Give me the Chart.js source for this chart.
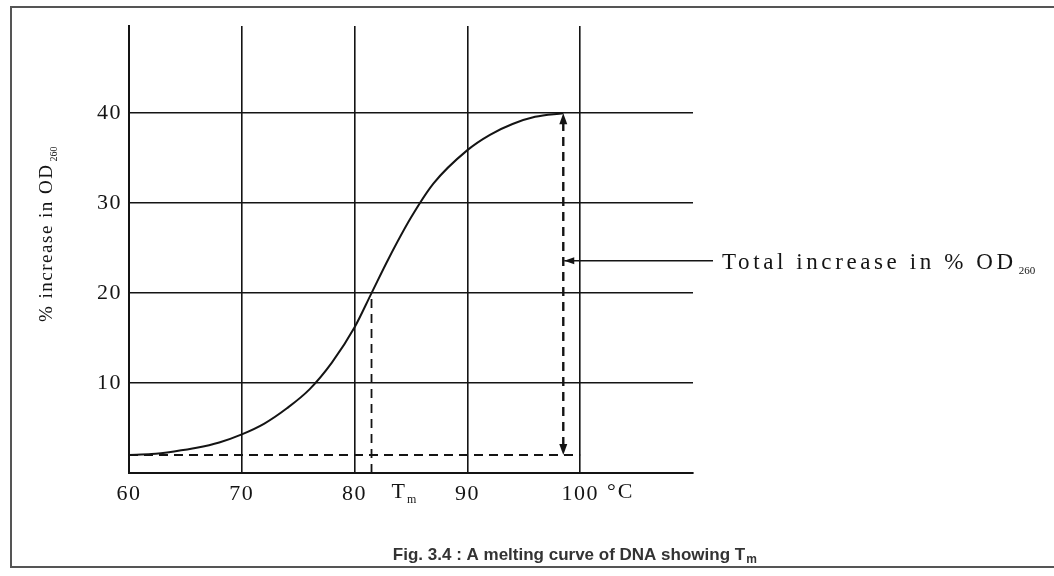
<!DOCTYPE html>
<html>
<head>
<meta charset="utf-8">
<script src="https://cdn.jsdelivr.net/npm/chart.js@4.4.1/dist/chart.umd.min.js"></script>
<style>
  html, body { margin: 0; padding: 0; background: #fff; }
  #wrap { width: 1054px; height: 576px; }
</style>
</head>
<body>
<div id="wrap"><canvas id="meltChart" width="1054" height="576"></canvas></div>
<script>
// melting curve
const tempC = [60, 62, 64, 66, 68, 70, 72, 74, 76, 78, 80, 81.5, 83, 85, 87, 90, 92, 94, 96, 98.5];
const pctIncrease = [2.0, 2.1, 2.4, 2.8, 3.4, 4.3, 5.5, 7.2, 9.3, 12.3, 16.2, 20.0, 23.8, 28.4, 32.2, 35.9, 37.6, 38.8, 39.6, 40.0];

const xTicks = [60, 70, 80, 90, 100];
const yTicks = [10, 20, 30, 40];
const xRange = [60, 110];
const yRange = [0, 49.7];

const baseline = 2;      // starting OD level
const baselineEnd = 100;
const tm = 81.5;         // melting temperature
const tmValue = 20;
const arrowX = 98.5;     // total increase arrow
const plateau = 40;
const noteY = 23.6;

const ink = '#141414';
const serif = '"Liberation Serif", "Times New Roman", serif';

const dashed = (data, width) => ({
  data: data,
  borderColor: ink,
  borderWidth: width,
  borderDash: [9, 6],
  pointRadius: 0,
  fill: false
});

function drawSub(ctx, main, sub, x, y, size, subSize, spacing) {
  ctx.font = size + 'px ' + serif;
  ctx.letterSpacing = spacing + 'px';
  ctx.fillText(main, x, y);
  const w = ctx.measureText(main).width;
  ctx.font = subSize + 'px ' + serif;
  ctx.letterSpacing = '0px';
  ctx.fillText(sub, x + w + 2, y + 5);
}

const extras = {
  id: 'extras',
  beforeDraw(chart) {
    const ctx = chart.ctx;
    ctx.save();
    ctx.fillStyle = '#fff';
    ctx.fillRect(0, 0, chart.width, chart.height);
    ctx.restore();
    ctx.letterSpacing = '1.5px';
  },
  afterDraw(chart) {
    const ctx = chart.ctx;
    const xs = chart.scales.x;
    const ys = chart.scales.y;
    const px = xs.getPixelForValue(arrowX);
    const pTop = ys.getPixelForValue(plateau);
    const pBot = ys.getPixelForValue(baseline);
    ctx.save();
    ctx.letterSpacing = '0px';
    ctx.fillStyle = ink;
    ctx.strokeStyle = ink;

    // arrow heads of the total increase arrow
    ctx.beginPath();
    ctx.moveTo(px, pTop);
    ctx.lineTo(px - 4, pTop + 11);
    ctx.lineTo(px + 4, pTop + 11);
    ctx.closePath();
    ctx.fill();
    ctx.beginPath();
    ctx.moveTo(px, pBot);
    ctx.lineTo(px - 4, pBot - 11);
    ctx.lineTo(px + 4, pBot - 11);
    ctx.closePath();
    ctx.fill();

    // pointer line to the note
    const ny = ys.getPixelForValue(noteY);
    ctx.lineWidth = 1.5;
    ctx.beginPath();
    ctx.moveTo(px + 1, ny);
    ctx.lineTo(713, ny);
    ctx.stroke();
    ctx.beginPath();
    ctx.moveTo(px + 1, ny);
    ctx.lineTo(px + 11, ny - 3.5);
    ctx.lineTo(px + 11, ny + 3.5);
    ctx.closePath();
    ctx.fill();

    ctx.textBaseline = 'alphabetic';
    ctx.textAlign = 'left';
    drawSub(ctx, 'Total increase in % OD', '260', 722, ny + 8, 23, 11, 3.6);

    // Tm and unit labels under the axis
    const axisY = ys.getPixelForValue(0);
    const tx = xs.getPixelForValue(tm) + 20;
    drawSub(ctx, 'T', 'm', tx, axisY + 25, 22, 12, 0);
    ctx.font = '22px ' + serif;
    ctx.letterSpacing = '2px';
    ctx.textAlign = 'center';
    ctx.fillText('°C', xs.getPixelForValue(103.6), axisY + 25);

    // y axis title
    ctx.save();
    ctx.translate(52, 322);
    ctx.rotate(-Math.PI / 2);
    ctx.textAlign = 'left';
    drawSub(ctx, '% increase in OD', '260', 0, 0, 19, 10, 1.5);
    ctx.restore();

    // caption
    ctx.letterSpacing = '0px';
    ctx.textAlign = 'left';
    ctx.fillStyle = '#333';
    ctx.font = 'bold 17px "Liberation Sans", Arial, sans-serif';
    const cap = 'Fig. 3.4 : A melting curve of DNA showing T';
    const cw = ctx.measureText(cap).width;
    const cx = 575 - (cw + 12) / 2;
    ctx.fillText(cap, cx, 560);
    ctx.font = 'bold 12px "Liberation Sans", Arial, sans-serif';
    ctx.fillText('m', cx + cw + 1, 563);

    // frame
    ctx.strokeStyle = '#555';
    ctx.lineWidth = 2;
    ctx.strokeRect(11, 7, 1060, 560);
    ctx.restore();
  }
};

const ctx = document.getElementById('meltChart').getContext('2d');
const meltChart = new Chart(ctx, {
  type: 'line',
  data: {
    datasets: [
      {
        data: tempC.map((t, i) => ({ x: t, y: pctIncrease[i] })),
        borderColor: ink,
        borderWidth: 2,
        pointRadius: 0,
        cubicInterpolationMode: 'monotone',
        fill: false
      },
      dashed([{ x: xRange[0], y: baseline }, { x: baselineEnd, y: baseline }], 1.8),
      dashed([{ x: tm, y: 0 }, { x: tm, y: tmValue }], 1.8),
      dashed([{ x: arrowX, y: baseline + 1 }, { x: arrowX, y: plateau - 1 }], 2.4)
    ]
  },
  options: {
    responsive: false,
    animation: false,
    events: [],
    layout: { padding: { left: 39, top: 26, right: 361, bottom: 43 } },
    plugins: { legend: { display: false }, tooltip: { enabled: false } },
    scales: {
      x: {
        type: 'linear',
        min: xRange[0],
        max: xRange[1],
        afterBuildTicks: s => { s.ticks = xTicks.map(v => ({ value: v })); },
        afterFit: s => { s.height = 60; },
        grid: { color: ink, lineWidth: 1.6, drawTicks: false },
        border: { display: true, color: ink, width: 2 },
        ticks: {
          autoSkip: false,
          maxRotation: 0,
          padding: 8,
          color: ink,
          font: { family: serif, size: 22 }
        }
      },
      y: {
        min: yRange[0],
        max: yRange[1],
        afterBuildTicks: s => { s.ticks = yTicks.map(v => ({ value: v })); },
        afterFit: s => { s.width = 90; },
        grid: { color: ink, lineWidth: 1.6, drawTicks: false },
        border: { display: true, color: ink, width: 2 },
        ticks: {
          autoSkip: false,
          padding: 7,
          color: ink,
          font: { family: serif, size: 22 }
        }
      }
    }
  },
  plugins: [extras]
});
</script>
</body>
</html>
